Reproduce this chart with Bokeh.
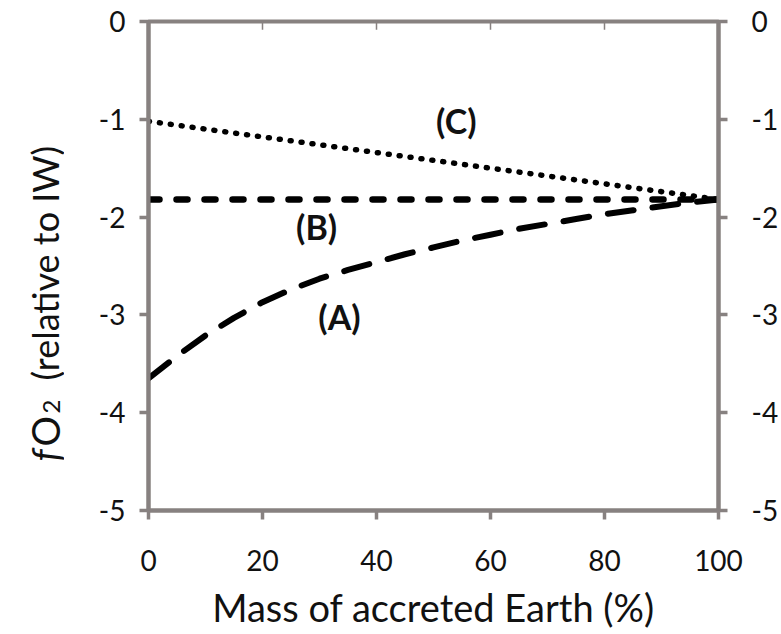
import math
from bokeh.plotting import figure
from bokeh.layouts import row
from bokeh.models import Range1d, LinearAxis, FixedTicker, ColumnDataSource
from bokeh.core.properties import value
from bokeh.embed import file_html
from bokeh.resources import INLINE

# ---- data ----
mass_a = [0, 5, 10, 15, 20, 25, 30, 35, 40, 45, 50, 55, 60, 65, 70, 75, 80, 85, 90, 95, 100]
fo2_a = [-3.65, -3.42, -3.21, -3.03, -2.87, -2.74, -2.63, -2.54, -2.46, -2.38, -2.31,
         -2.24, -2.18, -2.12, -2.07, -2.02, -1.97, -1.93, -1.89, -1.85, -1.82]
mass_b = [0, 100]
fo2_b = [-1.82, -1.82]
mass_c = [0, 100]
fo2_c = [-1.02, -1.82]

curve_labels = ["(A)", "(B)", "(C)"]
label_x = [33.5, 29.5, 54.0]
label_y = [-3.02, -2.10, -1.01]

x_ticks = [0, 20, 40, 60, 80, 100]
y_ticks = [-5, -4, -3, -2, -1, 0]
y_tick_text = {-5: "-5", -4: "-4", -3: "-3", -2: "-2", -1: "-1", 0: "0"}

x_title = "Mass of accreted Earth (%)"
y_title_parts = ["f", "O", "2", "(relative to IW)"]

FONT = "Lato"
AXIS_COLOR = "#878180"
TEXT_COLOR = "#111111"
W, H = 781, 634
SIDE_W = 64
FRAME_TOP, FRAME_BOTTOM = 21, 510

p = figure(width=W - SIDE_W, height=H, output_backend="svg", toolbar_location=None,
           x_range=Range1d(0, 100), y_range=Range1d(-5, 0),
           min_border_left=148 - SIDE_W, min_border_right=63, min_border_top=FRAME_TOP,
           min_border_bottom=H - FRAME_BOTTOM)
p.outline_line_color = AXIS_COLOR
p.outline_line_width = 4
p.grid.visible = False
p.background_fill_color = "white"
p.border_fill_color = "white"

def style_axis(ax, ticks):
    ax.ticker = FixedTicker(ticks=ticks)
    ax.axis_line_color = AXIS_COLOR
    ax.axis_line_width = 4
    ax.major_tick_line_color = AXIS_COLOR
    ax.major_tick_line_width = 3.5
    ax.major_tick_in = 0
    ax.major_tick_out = 9
    ax.minor_tick_line_color = None
    ax.major_label_text_font = FONT
    ax.major_label_text_font_size = "28px"
    ax.major_label_text_color = TEXT_COLOR

# bottom axis
xa = p.xaxis[0]
style_axis(xa, x_ticks)
xa.major_label_standoff = 30
xa.axis_label = x_title
xa.axis_label_text_font = FONT
xa.axis_label_text_font_size = "38px"
xa.axis_label_text_font_style = "normal"
xa.axis_label_text_color = TEXT_COLOR
xa.axis_label_standoff = 10

# left axis
ya = p.yaxis[0]
style_axis(ya, y_ticks)
ya.major_label_overrides = y_tick_text
ya.major_label_standoff = 14

# right axis
ra = LinearAxis()
style_axis(ra, y_ticks)
ra.major_label_overrides = y_tick_text
ra.major_label_standoff = 24
p.add_layout(ra, "right")

# small inward ticks along the top edge
p.segment(x0=x_ticks, y0=[0] * len(x_ticks), x1=x_ticks, y1=[-0.085] * len(x_ticks),
          line_color=AXIS_COLOR, line_width=1.5)

# curves
p.line(mass_a, fo2_a, line_color="black", line_width=6, line_dash="26 19", line_cap="round")
p.line(mass_b, fo2_b, line_color="black", line_width=6.5, line_dash="11 17", line_cap="round")
p.line(mass_c, fo2_c, line_color="black", line_width=5.5, line_dash="1 10", line_cap="round")

src = ColumnDataSource(dict(x=label_x, y=label_y, t=curve_labels))
p.text(x="x", y="y", text="t", source=src, text_font=value(FONT), text_font_style="bold",
       text_font_size="34px", text_align="center", text_baseline="middle", text_color=TEXT_COLOR)

# side panel carrying the rotated y title: fO2 (relative to IW)
# its frame is aligned with the main frame, so y is mapped in page pixels (H - y_px)
s = figure(width=SIDE_W, height=H, output_backend="svg", toolbar_location=None,
           x_range=Range1d(0, SIDE_W), y_range=Range1d(H - FRAME_BOTTOM, H - FRAME_TOP),
           min_border=0, min_border_left=0, min_border_right=0,
           min_border_top=FRAME_TOP, min_border_bottom=H - FRAME_BOTTOM)
s.axis.visible = False
s.grid.visible = False
s.outline_line_color = None
s.background_fill_color = "white"
s.border_fill_color = "white"

ang = math.pi / 2
common = dict(angle=ang, text_align="left", text_baseline="alphabetic",
              text_font=value(FONT), text_color=TEXT_COLOR)
s.text(x=[44], y=[H - 461], text=[y_title_parts[0]], text_font_size="38px",
       text_font_style="italic", **common)
s.text(x=[44], y=[H - 446], text=[y_title_parts[1]], text_font_size="38px", **common)
s.text(x=[51], y=[H - 413], text=[y_title_parts[2]], text_font_size="24px", **common)
s.text(x=[44], y=[H - 380], text=[y_title_parts[3]], text_font_size="36px", **common)

layout = row(s, p, spacing=0)
open("out.html", "w").write(file_html(layout, INLINE))
